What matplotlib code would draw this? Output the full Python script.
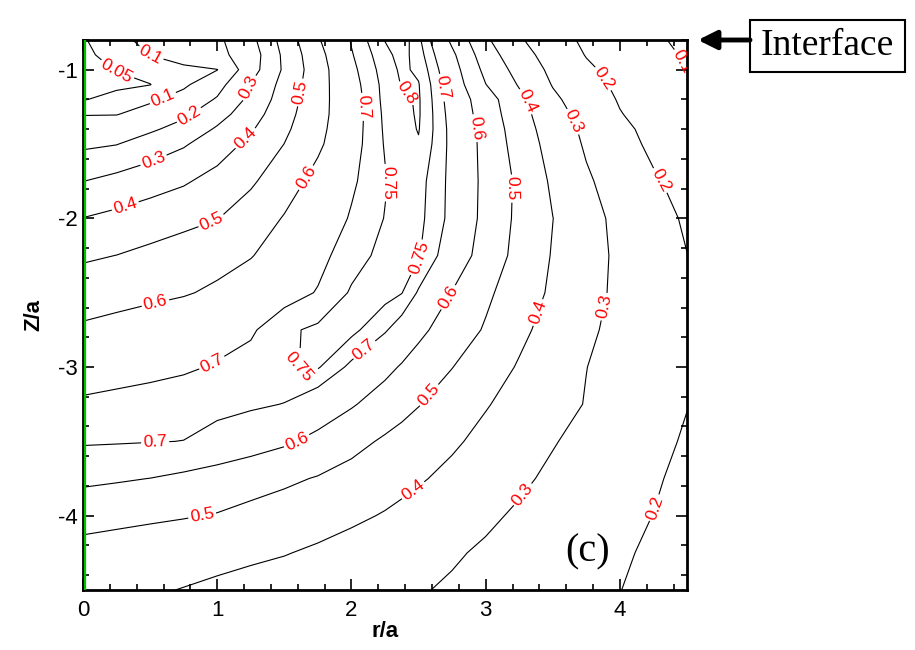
import numpy as np
import matplotlib
matplotlib.use('Agg')
import matplotlib.pyplot as plt
from matplotlib.patches import Rectangle
from matplotlib.ticker import MultipleLocator

# grid (r/a columns, Z/a rows)
r_vals = [0, 0.25, 0.5, 0.75, 1.0, 1.25, 1.5, 1.75, 2.0, 2.25, 2.375, 2.5,
          2.75, 3.0, 3.25, 3.5, 3.75, 4.0, 4.25, 4.5]
z_vals = [-0.8, -0.9, -1.0, -1.1, -1.2, -1.3, -1.4, -1.5, -1.75, -2.0, -2.25,
          -2.5, -2.75, -3.0, -3.25, -3.5, -3.75, -4.0, -4.25, -4.5]

row_08 = [0.045, 0.084, 0.117, 0.149, 0.182, 0.271, 0.439, 0.591, 0.705, 0.802, 0.83, 0.763, 0.581, 0.415, 0.311, 0.239, 0.183, 0.145, 0.107, 0.09]
row_09 = [0.04, 0.067, 0.101, 0.137, 0.174, 0.248, 0.421, 0.571, 0.695, 0.784, 0.82, 0.775, 0.619, 0.445, 0.338, 0.259, 0.196, 0.158, 0.12, 0.093]
row_10 = [0.04, 0.051, 0.066, 0.082, 0.098, 0.258, 0.415, 0.559, 0.684, 0.773, 0.81, 0.79, 0.641, 0.474, 0.365, 0.278, 0.215, 0.171, 0.134, 0.099]
row_11 = [0.04, 0.043, 0.049, 0.085, 0.164, 0.303, 0.433, 0.561, 0.675, 0.766, 0.803, 0.803, 0.656, 0.502, 0.392, 0.295, 0.233, 0.182, 0.144, 0.105]
row_12 = [0.048, 0.061, 0.086, 0.134, 0.209, 0.324, 0.448, 0.564, 0.668, 0.764, 0.79, 0.806, 0.666, 0.546, 0.424, 0.318, 0.25, 0.193, 0.159, 0.125]
row_13 = [0.097, 0.097, 0.137, 0.183, 0.262, 0.356, 0.465, 0.567, 0.666, 0.76, 0.784, 0.806, 0.674, 0.556, 0.436, 0.338, 0.265, 0.204, 0.166, 0.13]
row_14 = [0.136, 0.161, 0.186, 0.234, 0.312, 0.39, 0.482, 0.574, 0.67, 0.757, 0.78, 0.803, 0.68, 0.569, 0.447, 0.353, 0.28, 0.219, 0.177, 0.135]
row_15 = [0.182, 0.197, 0.243, 0.29, 0.352, 0.423, 0.501, 0.584, 0.674, 0.754, 0.775, 0.795, 0.682, 0.572, 0.458, 0.363, 0.289, 0.233, 0.182, 0.14]
row_175 = [0.299, 0.33, 0.36, 0.389, 0.434, 0.486, 0.558, 0.629, 0.69, 0.746, 0.77, 0.77, 0.683, 0.576, 0.481, 0.385, 0.312, 0.259, 0.21, 0.17]
row_20 = [0.402, 0.424, 0.448, 0.472, 0.497, 0.549, 0.606, 0.656, 0.706, 0.752, 0.77, 0.765, 0.682, 0.573, 0.478, 0.401, 0.333, 0.276, 0.229, 0.19]
row_225 = [0.486, 0.501, 0.524, 0.548, 0.572, 0.596, 0.638, 0.682, 0.729, 0.765, 0.77, 0.755, 0.658, 0.559, 0.469, 0.394, 0.335, 0.283, 0.241, 0.201]
row_25 = [0.554, 0.567, 0.58, 0.593, 0.614, 0.643, 0.673, 0.704, 0.756, 0.77, 0.752, 0.693, 0.597, 0.518, 0.449, 0.385, 0.329, 0.282, 0.246, 0.21]
row_275 = [0.614, 0.629, 0.645, 0.66, 0.676, 0.691, 0.74, 0.76, 0.765, 0.707, 0.666, 0.621, 0.554, 0.491, 0.421, 0.365, 0.315, 0.276, 0.246, 0.215]
row_30 = [0.661, 0.671, 0.682, 0.692, 0.705, 0.723, 0.746, 0.755, 0.686, 0.624, 0.592, 0.562, 0.502, 0.446, 0.392, 0.346, 0.301, 0.271, 0.242, 0.205]
row_325 = [0.712, 0.72, 0.725, 0.73, 0.722, 0.712, 0.698, 0.654, 0.609, 0.557, 0.53, 0.504, 0.455, 0.406, 0.368, 0.332, 0.296, 0.264, 0.232, 0.202]
row_35 = [0.71, 0.707, 0.703, 0.699, 0.672, 0.643, 0.614, 0.576, 0.53, 0.487, 0.468, 0.45, 0.413, 0.376, 0.34, 0.305, 0.276, 0.248, 0.22, 0.192]
row_375 = [0.621, 0.61, 0.599, 0.579, 0.558, 0.537, 0.517, 0.494, 0.466, 0.437, 0.423, 0.409, 0.378, 0.346, 0.314, 0.285, 0.26, 0.234, 0.209, 0.18]
row_40 = [0.532, 0.524, 0.515, 0.506, 0.495, 0.475, 0.456, 0.436, 0.416, 0.394, 0.381, 0.367, 0.341, 0.314, 0.289, 0.267, 0.244, 0.222, 0.199, 0.17]
row_425 = [0.47, 0.459, 0.448, 0.437, 0.426, 0.415, 0.404, 0.387, 0.367, 0.348, 0.338, 0.328, 0.309, 0.289, 0.269, 0.249, 0.229, 0.209, 0.189, 0.165]
row_45 = [0.43, 0.419, 0.409, 0.397, 0.384, 0.371, 0.358, 0.345, 0.332, 0.319, 0.313, 0.306, 0.29, 0.272, 0.254, 0.236, 0.218, 0.201, 0.182, 0.16]

levels = [0.05, 0.1, 0.2, 0.3, 0.4, 0.5, 0.6, 0.7, 0.75, 0.8]

values = np.array([row_08, row_09, row_10, row_11, row_12, row_13, row_14, row_15,
                   row_175, row_20, row_225, row_25, row_275, row_30, row_325,
                   row_35, row_375, row_40, row_425, row_45])
R, Z = np.meshgrid(r_vals, z_vals)

# where the red labels sit
label_spots = [(0.25, -1.01), (0.5, -0.9), (0.6, -1.2), (0.8, -1.32), (0.54, -1.64),
               (0.33, -1.96), (0.97, -2.05), (0.55, -2.61), (0.97, -2.99),
               (1.26, -1.13), (1.22, -1.47), (1.6, -1.15), (1.65, -1.72),
               (2.08, -1.25), (2.27, -1.76), (2.42, -1.15), (2.68, -1.12),
               (2.94, -1.39), (3.22, -1.8), (3.31, -1.21), (3.65, -1.35),
               (3.86, -1.07), (4.31, -1.74), (4.45, -0.95), (2.51, -2.27),
               (2.72, -2.53), (2.58, -3.19), (3.38, -2.63), (3.86, -2.59),
               (1.56, -3.03), (2.11, -2.9), (0.54, -3.55), (1.6, -3.51),
               (0.89, -4.01), (2.46, -3.83), (3.28, -3.86), (4.27, -3.95)]

plt.rcParams['font.family'] = ['Liberation Sans', 'DejaVu Sans']
plt.rcParams['axes.unicode_minus'] = False

fig = plt.figure(figsize=(9.15, 6.5), dpi=100)
ax = fig.add_axes([83 / 915, 60 / 650, 604 / 915, 550 / 650])

cs = ax.contour(R, Z, values, levels=levels, colors='black', linewidths=0.8)
ax.clabel(cs, levels, fmt='%g', colors='red', fontsize=12.5, inline=True,
          inline_spacing=2, manual=label_spots)

ax.axvline(0.012, color='#00c000', lw=1.6, zorder=5)

ax.set_xlim(0, 4.5)
ax.set_ylim(-4.5, -0.8)
ax.xaxis.set_major_locator(MultipleLocator(1))
ax.xaxis.set_minor_locator(MultipleLocator(0.2))
ax.yaxis.set_major_locator(MultipleLocator(1))
ax.yaxis.set_minor_locator(MultipleLocator(0.2))
ax.tick_params(which='both', direction='in', top=True, right=True, width=1.2,
               labelsize=16)
ax.tick_params(which='major', length=8)
ax.tick_params(which='minor', length=4.5)
ax.tick_params(axis='x', pad=7)
for s in ax.spines.values():
    s.set_linewidth(2)

ax.set_xlabel('r/a', fontsize=16, fontweight='bold', labelpad=0)
ax.set_ylabel('Z/a', fontsize=16, fontweight='bold', labelpad=10)

ax.text(0.835, 0.07, '(c)', transform=ax.transAxes, fontsize=29,
        family='Liberation Serif', ha='center', va='center')

# "Interface" box with arrow
fig.patches.append(Rectangle((750 / 915, 1 - 72 / 650), 155 / 915, 52 / 650,
                             transform=fig.transFigure, fill=False,
                             ec='black', lw=1.5))
fig.text(827 / 915, 1 - 46 / 650, 'Interface', family='Liberation Serif',
         fontsize=27, ha='center', va='center')
ax.annotate('', xy=(698 / 915, 1 - 40 / 650), xycoords='figure fraction',
            xytext=(750 / 915, 1 - 40 / 650), textcoords='figure fraction',
            arrowprops=dict(arrowstyle='-|>', lw=3.5, color='black',
                            mutation_scale=28, shrinkA=0, shrinkB=0))

fig.savefig('out.png', dpi=100)
